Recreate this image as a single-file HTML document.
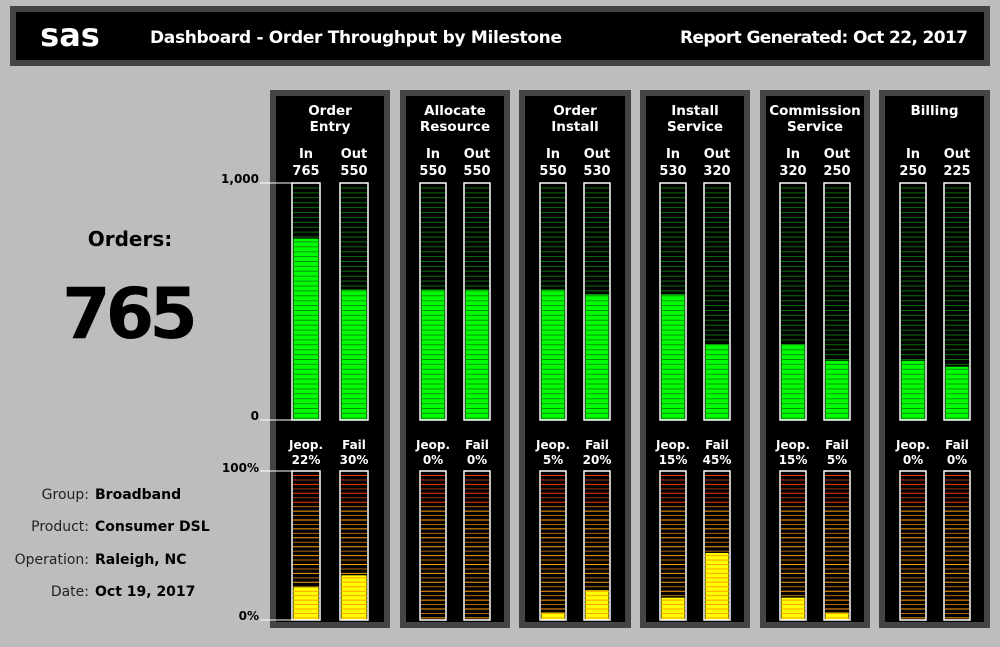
<!DOCTYPE html>
<html><head><meta charset="utf-8">
<style>
body{margin:0;background:#bdbdbd;}
svg{display:block;font-family:"DejaVu Sans","Liberation Sans",sans-serif;}
</style></head>
<body>
<svg id="c" width="1000" height="647" xmlns="http://www.w3.org/2000/svg">
<rect x="0" y="0" width="1000" height="647" fill="#bdbdbd"/>
<g>
<rect x="13" y="9" width="974" height="54" fill="#000" stroke="#444" stroke-width="6"/>
<text x="70" y="46" fill="#fff" font-size="32" font-weight="bold" text-anchor="middle">sas</text>
<text x="150" y="43" fill="#fff" font-size="17" font-weight="bold" textLength="412">Dashboard - Order Throughput by Milestone</text>
<text x="968" y="43" fill="#fff" font-size="17" font-weight="bold" text-anchor="end" textLength="288">Report Generated: Oct 22, 2017</text>
</g>
<g>
<text x="130" y="246" font-size="20" font-weight="bold" text-anchor="middle">Orders:</text>
<text x="130" y="338" font-size="70" font-weight="bold" text-anchor="middle" textLength="136">765</text>
<g font-size="14" fill="#222">
<text x="89" y="499" text-anchor="end">Group:</text><text x="95" y="499" font-weight="bold" fill="#000">Broadband</text>
<text x="89" y="531" text-anchor="end">Product:</text><text x="95" y="531" font-weight="bold" fill="#000">Consumer DSL</text>
<text x="89" y="564" text-anchor="end">Operation:</text><text x="95" y="564" font-weight="bold" fill="#000">Raleigh, NC</text>
<text x="89" y="596" text-anchor="end">Date:</text><text x="95" y="596" font-weight="bold" fill="#000">Oct 19, 2017</text>
</g>
</g>
<g id="panels"></g>
<g font-size="12" font-weight="bold">
<line x1="260" y1="183" x2="292" y2="183" stroke="#fff"/><text x="259" y="183" text-anchor="end">1,000</text>
<line x1="260" y1="420" x2="292" y2="420" stroke="#fff"/><text x="259" y="420" text-anchor="end">0</text>
<line x1="260" y1="471" x2="292" y2="471" stroke="#fff"/><text x="259" y="472" text-anchor="end">100%</text>
<line x1="260" y1="620" x2="292" y2="620" stroke="#fff"/><text x="259" y="620" text-anchor="end">0%</text>
</g>
</svg>
<script>
const milestones=[["Order","Entry"],["Allocate","Resource"],["Order","Install"],["Install","Service"],["Commission","Service"],["Billing",""]];
const inVals=[765,550,550,530,320,250];
const outVals=[550,550,530,320,250,225];
const jeopVals=[22,0,5,15,15,0];
const failVals=[30,0,20,45,5,0];
const countMax=1000, pctMax=100;
const panelX=[[270,390],[400,510],[519,631],[640,750],[760,870],[879,990]];
const barX=[[292,320,340,368],[420,446,464,490],[540,566,584,610],[660,686,704,730],[780,806,824,850],[900,926,944,970]];
const NS="http://www.w3.org/2000/svg";
const g=document.getElementById('panels');
const topY=183,botY=420,pTop=471,pBot=620;
const yCount=v=>botY-(v/countMax)*(botY-topY);
const yPct=v=>pBot-(v/pctMax)*(pBot-pTop);
function mk(tag,a,parent){const e=document.createElementNS(NS,tag);for(const k in a)e.setAttribute(k,a[k]);(parent||g).appendChild(e);return e;}
function txt(x,y,s,parent,size){const t=mk('text',{x:x,y:y,fill:'#fff','font-size':size||13,'font-weight':'bold','text-anchor':'middle'},parent);t.textContent=s;return t;}
function countBar(p,x1,x2,v,name){
  const b=mk('g',{},p);
  
  
  mk('rect',{x:x1,y:topY,width:x2-x1,height:botY-topY,fill:'#000'},b);
  const fy=yCount(v);
  mk('rect',{x:x1+1.5,y:fy,width:x2-x1-3,height:botY-fy,fill:'#00ff00'},b);
  for(let y=topY+5;y<botY;y+=4.9){mk('line',{x1:x1+1,x2:x2-1,y1:y,y2:y,stroke:y<fy?'#0b6e0b':'#079007','stroke-width':1},b);}
  mk('rect',{x:x1,y:topY,width:x2-x1,height:botY-topY,fill:'none',stroke:'#fff','stroke-width':1.5},b);
}
function pctBar(p,x1,x2,v,name){
  const b=mk('g',{},p);
  
  
  mk('rect',{x:x1,y:pTop,width:x2-x1,height:pBot-pTop,fill:'#000'},b);
  const fy=yPct(v);
  mk('rect',{x:x1+1.5,y:fy,width:x2-x1-3,height:pBot-fy,fill:'#ffff00'},b);
  let i=0;
  for(let y=pTop+4.5;y<pBot;y+=4.45,i++){
    const red=y<pTop+32;
    let c=red?(i%2?'#a03010':'#ff3300'):(i%2?'#b06a00':'#ffa000');
    if(y>=fy)c='#ffa000';
    mk('line',{x1:x1+1,x2:x2-1,y1:y,y2:y,stroke:c,'stroke-width':1},b);
  }
  mk('rect',{x:x1,y:pTop,width:x2-x1,height:pBot-pTop,fill:'none',stroke:'#fff','stroke-width':1.5},b);
}
milestones.forEach((m,i)=>{
  const p=mk('g',{});
  
  
  const [a,bx]=panelX[i];
  mk('rect',{x:a+3,y:93,width:bx-a-6,height:532,fill:'#000',stroke:'#444','stroke-width':6},p);
  const cx=(a+bx)/2;
  txt(cx,115,m[0],p,13.5);txt(cx,131,m[1],p,13.5);
  const [i1,i2,o1,o2]=barX[i];
  const ic=(i1+i2)/2, oc=(o1+o2)/2;
  txt(ic,158,'In',p);txt(oc,158,'Out',p);
  txt(ic,175,String(inVals[i]),p);txt(oc,175,String(outVals[i]),p);
  countBar(p,i1,i2,inVals[i],'in-bar-'+i);
  countBar(p,o1,o2,outVals[i],'out-bar-'+i);
  txt(ic,449,'Jeop.',p,12);txt(oc,449,'Fail',p,12);
  txt(ic,464,jeopVals[i]+'%',p,12);txt(oc,464,failVals[i]+'%',p,12);
  pctBar(p,i1,i2,jeopVals[i],'jeop-bar-'+i);
  pctBar(p,o1,o2,failVals[i],'fail-bar-'+i);
});
</script>
</body></html>
